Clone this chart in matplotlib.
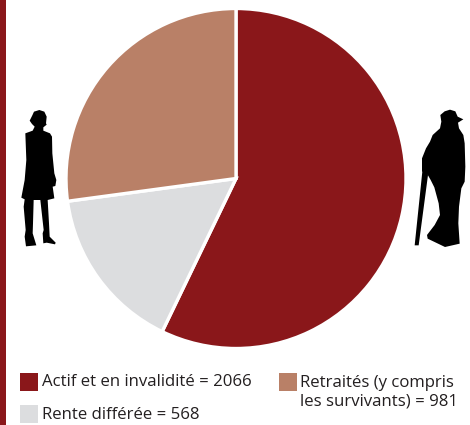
import matplotlib
matplotlib.use("Agg")
import matplotlib.pyplot as plt
from matplotlib.patches import Polygon, Rectangle

categories = ["Actif et en invalidité", "Rente différée", "Retraités (y compris\nles survivants)"]
values = [2066, 568, 981]
colors = ["#8A171A", "#DCDDDF", "#B98067"]

W, H = 470, 425
plt.rcParams['font.family'] = ['Open Sans', 'DejaVu Sans']
fig = plt.figure(figsize=(W / 100, H / 100), dpi=100)
ax = fig.add_axes([0, 0, 1, 1])

ax.pie(values, colors=colors, startangle=90, counterclock=False,
       center=(236, H - 178.5), radius=170,
       wedgeprops=dict(edgecolor="white", linewidth=2.4))
ax.set_xlim(0, W)
ax.set_ylim(0, H)
ax.set_aspect("equal")
ax.axis("off")


def px(x, y, w, h, color):
    ax.add_patch(Rectangle((x, H - y - h), w, h, facecolor=color, edgecolor="none"))


def silhouette(points, ox, oy):
    ax.add_patch(Polygon([(ox + x / 3, H - (oy + y / 3)) for x, y in points],
                         closed=True, facecolor="black", edgecolor="none"))


px(0, 0, 5.5, H, "#8A171A")

woman = [(118, 60), (133, 65), (140, 80), (138, 100), (140, 104), (130, 112), (130, 122), (150, 130),
         (156, 140), (157, 190), (163, 250), (169, 270), (166, 288), (158, 290), (163, 325),
         (143, 330), (147, 400), (149, 440), (167, 458), (165, 463), (140, 458), (130, 460),
         (128, 430), (131, 420), (121, 330), (101, 330), (99, 400), (98, 430), (109, 466),
         (78, 469), (74, 440), (77, 420), (71, 350), (74, 328), (64, 323), (74, 270),
         (79, 210), (76, 130), (98, 122), (104, 110), (96, 102), (89, 92), (97, 76), (102, 65)]
man = [(150, 29), (166, 34), (173, 50), (190, 58), (174, 68), (177, 85), (190, 105),
       (194, 130), (196, 200), (194, 245), (184, 265), (177, 320), (175, 370), (179, 431),
       (135, 441), (83, 416), (81, 405), (104, 375), (120, 345), (116, 310), (103, 262),
       (92, 240), (84, 226), (66, 214), (66, 175), (78, 145), (90, 125), (98, 105),
       (120, 85), (124, 65), (121, 45), (134, 34)]
cane = [(68, 205), (44, 436), (56, 436), (84, 225)]
silhouette(woman, 0, 90)
silhouette(man, 400, 100)
silhouette(cane, 400, 100)

FS = 12.1
for x, y, i in [(20, 373, 0), (20, 405, 1), (279, 373, 2)]:
    px(x, y, 18, 18, colors[i])
for x, y, i in [(41.5, 382.5, 0), (41.5, 415, 1), (300, 392, 2)]:
    ax.text(x, H - y, f"{categories[i]} = {values[i]}", fontsize=FS,
            color="#231F20", va="center", ha="left", linespacing=1.2)

fig.savefig("out.png", dpi=100)
